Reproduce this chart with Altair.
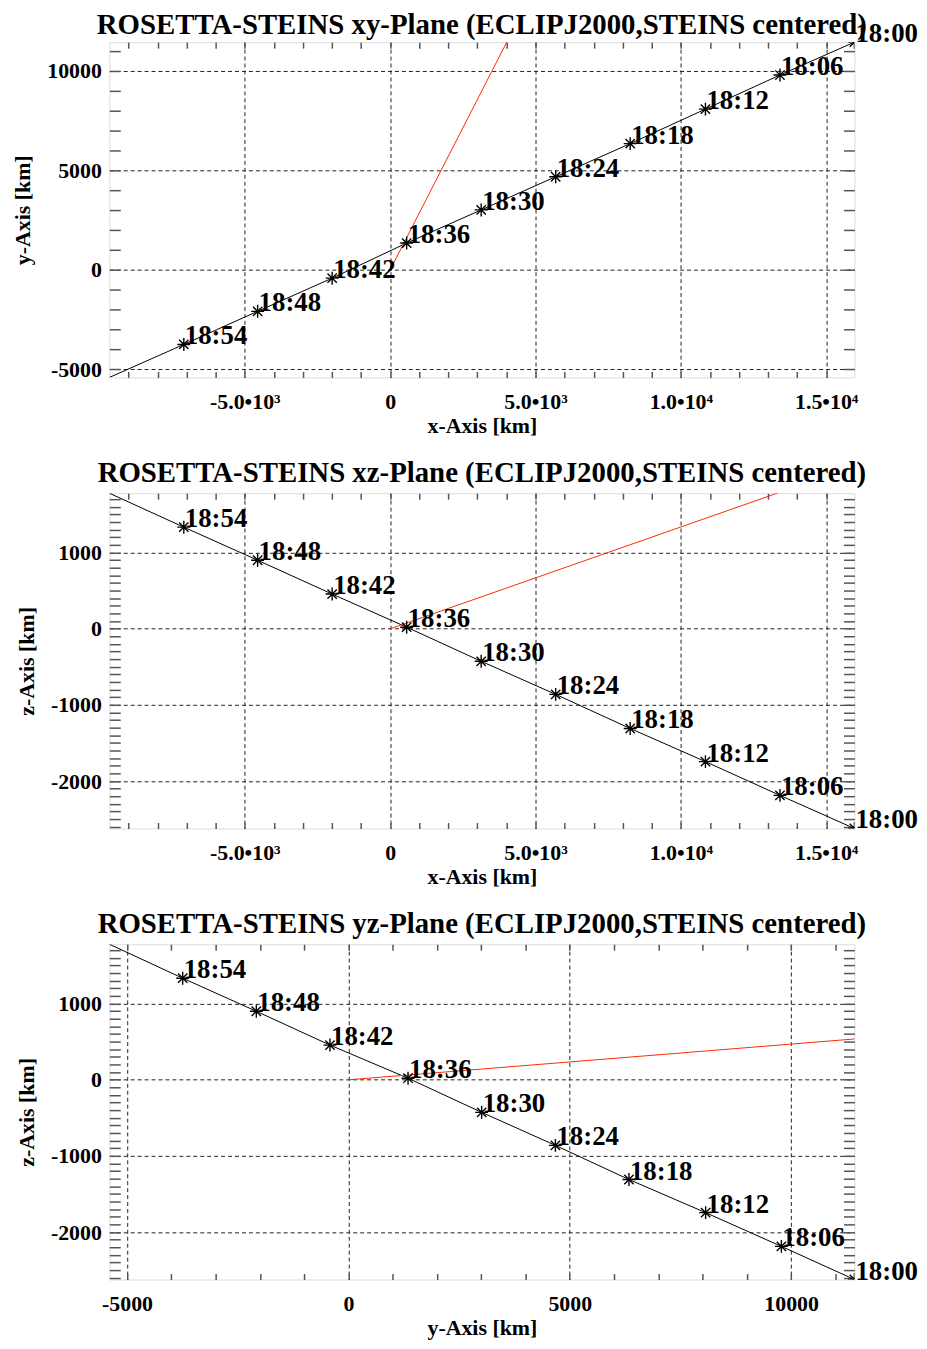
import altair as alt
import pandas as pd

# ---- data ----
times = ["18:00", "18:06", "18:12", "18:18", "18:24", "18:30",
         "18:36", "18:42", "18:48", "18:54", "19:00"]
x_km = [15970, 13408, 10845, 8257, 5694, 3131, 568, -1996, -4559, -7098, -9660]
y_km = [11430, 9780, 8069, 6337, 4676, 3010, 1347, -416, -2080, -3743, -5400]
z_km = [-2622, -2187, -1744, -1309, -861, -427, 21, 456, 900, 1334, 1780]
marked = [True, True, True, True, True, True, True, True, True, True, False]

# red direction line (from Steins centre)
sun_x = [0, 13330]
sun_y = [0, 38000]
sun_z = [0, 1782]

x_domain = [-9660, 15970]
y_domain = [-5400, 11430]
z_domain = [-2622, 1780]

x_major = [-5000, 0, 5000, 10000, 15000]
x_major_labels = ["-5.0\u202210\u00b3", "0", "5.0\u202210\u00b3", "1.0\u202210\u2074", "1.5\u202210\u2074"]
y_major = [-5000, 0, 5000, 10000]
y_major_labels = ["-5000", "0", "5000", "10000"]
z_major = [-2000, -1000, 0, 1000]
z_major_labels = ["-2000", "-1000", "0", "1000"]

x_minor = list(range(-9000, 16000, 1000))
y_minor = list(range(-5000, 12000, 1000))
z_minor = list(range(-2600, 1800, 100))

traj = pd.DataFrame({"idx": list(range(len(times))), "t": times,
                     "x": x_km, "y": y_km, "z": z_km, "m": marked})
pts = traj[traj["m"]].copy()
sun = pd.DataFrame({"idx": [0, 1], "x": sun_x, "y": sun_y, "z": sun_z})

FONT = "Liberation Serif"
GRAY = "#555555"
ASTER = "M-1,0L1,0M0,-1L0,1M-0.72,-0.72L0.72,0.72M-0.72,0.72L0.72,-0.72"


def label_expr(vals, labs):
    e = "''"
    for v, l in zip(vals, labs):
        e = f"datum.value == {v} ? '{l}' : ({e})"
    return e


def major_axis(orient, vals, labs, title):
    horiz = orient == "bottom"
    return alt.Axis(orient=orient, values=vals, labelExpr=label_expr(vals, labs),
                    grid=True, gridDash=[4, 3], gridColor="#222222", gridWidth=1,
                    ticks=False, domain=False, title=title,
                    labelFont=FONT, labelFontWeight="bold", labelFontSize=22,
                    labelColor="black", labelPadding=14 if horiz else 8,
                    labelFlush=False, labelOverlap=False,
                    titleFont=FONT, titleFontWeight="bold", titleFontSize=22,
                    titleColor="black", titlePadding=3 if horiz else 12)


def minor_axis(orient, vals, size):
    return alt.Axis(orient=orient, values=vals, labels=False, grid=False,
                    domain=False, ticks=True, tickSize=size, offset=-size,
                    tickColor=GRAY, tickWidth=1.5, title=None)


def panel(title, hc, vc, hdom, vdom, hmaj, hlab, vmaj, vlab, hmin, vmin,
          htitle, vtitle, vsize, tdy):
    hs = alt.Scale(domain=hdom, nice=False, zero=False)
    vs = alt.Scale(domain=vdom, nice=False, zero=False)
    line = alt.Chart(traj).mark_line(color="black", strokeWidth=1, clip=True).encode(
        x=alt.X(f"{hc}:Q", scale=hs, axis=major_axis("bottom", hmaj, hlab, htitle)),
        y=alt.Y(f"{vc}:Q", scale=vs, axis=major_axis("left", vmaj, vlab, vtitle)),
        order="idx:Q")
    red = alt.Chart(sun).mark_line(color="#ff2a00", strokeWidth=1, clip=True).encode(
        x=alt.X(f"{hc}:Q", scale=hs, axis=minor_axis("bottom", hmin, 6)),
        y=alt.Y(f"{vc}:Q", scale=vs, axis=minor_axis("left", vmin, vsize)),
        order="idx:Q")
    stars = alt.Chart(pts).mark_point(shape=ASTER, size=170, filled=False,
                                      color="black", strokeWidth=1.4, opacity=1,
                                      clip=True).encode(
        x=alt.X(f"{hc}:Q", scale=hs, axis=minor_axis("top", hmin, 6)),
        y=alt.Y(f"{vc}:Q", scale=vs, axis=minor_axis("right", vmin, vsize)))
    text = alt.Chart(pts).mark_text(align="left", baseline="alphabetic", dx=1, dy=0,
                                    font=FONT, fontWeight="bold", fontSize=27,
                                    color="black").encode(
        x=alt.X(f"{hc}:Q", scale=hs, axis=None),
        y=alt.Y(f"{vc}:Q", scale=vs, axis=None),
        text="t:N")
    return alt.layer(line, red, stars, text).resolve_axis(
        x="independent", y="independent").properties(
        width=750, height=337.5,
        title=alt.TitleParams(title, font=FONT, fontWeight="bold", fontSize=29,
                              color="black", anchor="middle", offset=5, dy=tdy,
                              frame="group"))


p1 = panel("ROSETTA-STEINS xy-Plane (ECLIPJ2000,STEINS centered)", "x", "y",
           x_domain, y_domain, x_major, x_major_labels, y_major, y_major_labels,
           x_minor, y_minor, "x-Axis [km]", "y-Axis [km]", 11, 25)
p2 = panel("ROSETTA-STEINS xz-Plane (ECLIPJ2000,STEINS centered)", "x", "z",
           x_domain, z_domain, x_major, x_major_labels, z_major, z_major_labels,
           x_minor, z_minor, "x-Axis [km]", "z-Axis [km]", 11, 0)
p3 = panel("ROSETTA-STEINS yz-Plane (ECLIPJ2000,STEINS centered)", "y", "z",
           y_domain, z_domain, y_major, y_major_labels, z_major, z_major_labels,
           y_minor, z_minor, "y-Axis [km]", "z-Axis [km]", 11, 0)

chart = alt.vconcat(p1, p2, p3, spacing=116, bounds="flush").properties(
    padding={"left": 3, "top": -2, "right": 0, "bottom": 0}
).configure_view(stroke=GRAY, strokeWidth=1.5).configure(background="white")

chart.save("out.html", embed_options={"renderer": "svg", "actions": False})
